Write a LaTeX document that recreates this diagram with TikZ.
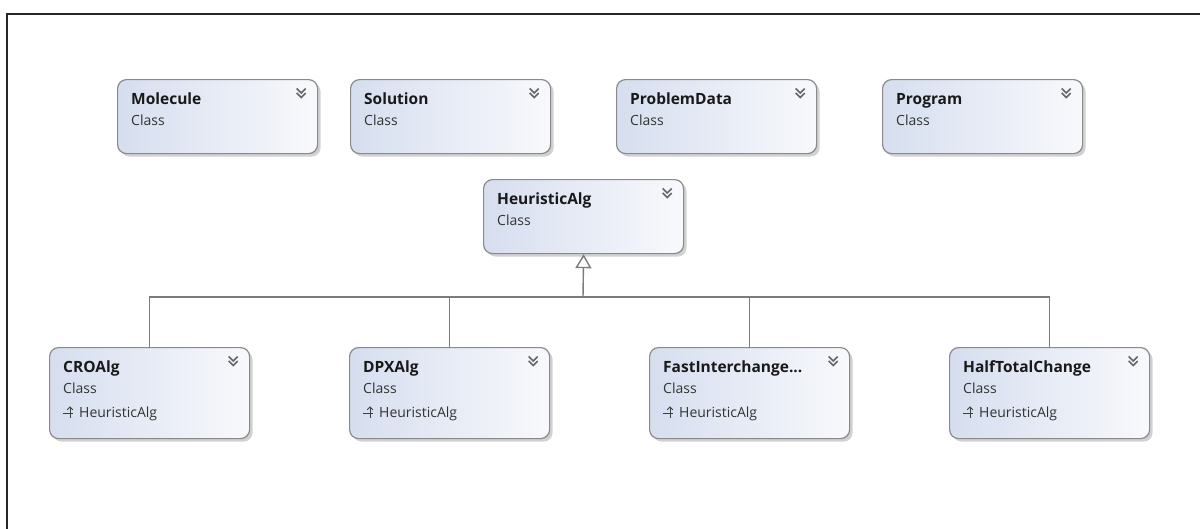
\documentclass[tikz,border=0pt]{standalone}
\usepackage{fontspec}
\setmainfont{Open Sans}
\usetikzlibrary{arrows.meta,shadows}
\definecolor{boxedge}{HTML}{8A8A8A}
\definecolor{boxleft}{HTML}{D6DEEF}
\definecolor{boxright}{HTML}{F8F9FC}
\definecolor{wire}{HTML}{7C7C7C}
\definecolor{chev}{HTML}{666666}
\tikzset{
  classbox/.style={draw=boxedge, line width=1.2pt, rounded corners=9pt,
    left color=boxleft, right color=boxright, minimum width=200pt,
    inner sep=0pt, anchor=north west,
    drop shadow={shadow xshift=3pt, shadow yshift=-3pt, fill=black, opacity=0.18}},
  title/.style={anchor=base west, inner sep=0pt,
    font=\fontsize{15.5}{18}\selectfont\bfseries, text=black!90},
  sub/.style={anchor=base west, inner sep=0pt,
    font=\fontsize{14}{16}\selectfont, text=black!80},
  wireline/.style={draw=wire, line width=1.4pt},
  chevron/.pic={
    \draw[chev, line width=1.5pt, line join=miter] (-4.5,-4.5) -- (0,0) -- (4.5,-4.5);
    \draw[chev, line width=1.5pt, line join=miter] (-4.5,0) -- (0,4.5) -- (4.5,0);
  },
  inhicon/.pic={
    \draw[black!75, line width=0.9pt] (0,0) -- (10,0);
    \draw[black!75, line width=0.9pt] (7,-6) -- (7,5);
    \draw[black!75, line width=0.9pt] (4.2,-3.2) -- (7,-6) -- (9.8,-3.2);
  },
}
% one class shape: name, x, y, height, title
\newcommand\classnode[5]{%
  \node[classbox, minimum height=#4pt] (#1) at (#2,#3) {};
  \node[title] (#1-t) at ([xshift=14pt,yshift=-25pt]#1.north west) {#5};
  \node[sub] (#1-s) at ([xshift=14pt,yshift=-46pt]#1.north west) {Class};
  \pic at ([xshift=-17pt,yshift=-14pt]#1.north east) {chevron};
}
% base class line under the title
\newcommand\basenote[1]{%
  \pic at ([xshift=14pt,yshift=-66pt]#1.north west) {inhicon};
  \node[sub] (#1-b) at ([xshift=30pt,yshift=-70pt]#1.north west) {HeuristicAlg};
}
\begin{document}
\begin{tikzpicture}[x=1pt,y=-1pt]
  \useasboundingbox (0,0) rectangle (1200,528);
  \fill[white] (0,0) rectangle (1200,528);

  % frame
  \draw[line width=2pt, black!85] (7,540) -- (7,14) -- (1210,14);

  % independent classes
  \classnode{mol}{117}{79}{74}{Molecule}
  \classnode{sol}{350}{79}{74}{Solution}
  \classnode{prob}{616}{79}{74}{ProblemData}
  \classnode{prog}{882}{79}{74}{Program}

  % base class
  \classnode{heur}{483}{179}{74}{HeuristicAlg}

  % derived classes
  \classnode{cro}{49}{347}{91}{CROAlg}
  \basenote{cro}
  \classnode{dpx}{349}{347}{91}{DPXAlg}
  \basenote{dpx}
  \classnode{fic}{649}{347}{91}{FastInterchange...}
  \basenote{fic}
  \classnode{htc}{949}{347}{91}{HalfTotalChange}
  \basenote{htc}

  % inheritance tree
  \coordinate (bus) at (583,297);
  \draw[wireline] (cro.north) |- (bus);
  \draw[wireline] (dpx.north) |- (bus);
  \draw[wireline] (fic.north) |- (bus);
  \draw[wireline] (htc.north) |- (bus);
  \draw[wireline, -{Triangle[open, length=14pt, width=16pt, fill=white]}] (bus) -- (heur.south);
\end{tikzpicture}
\end{document}
